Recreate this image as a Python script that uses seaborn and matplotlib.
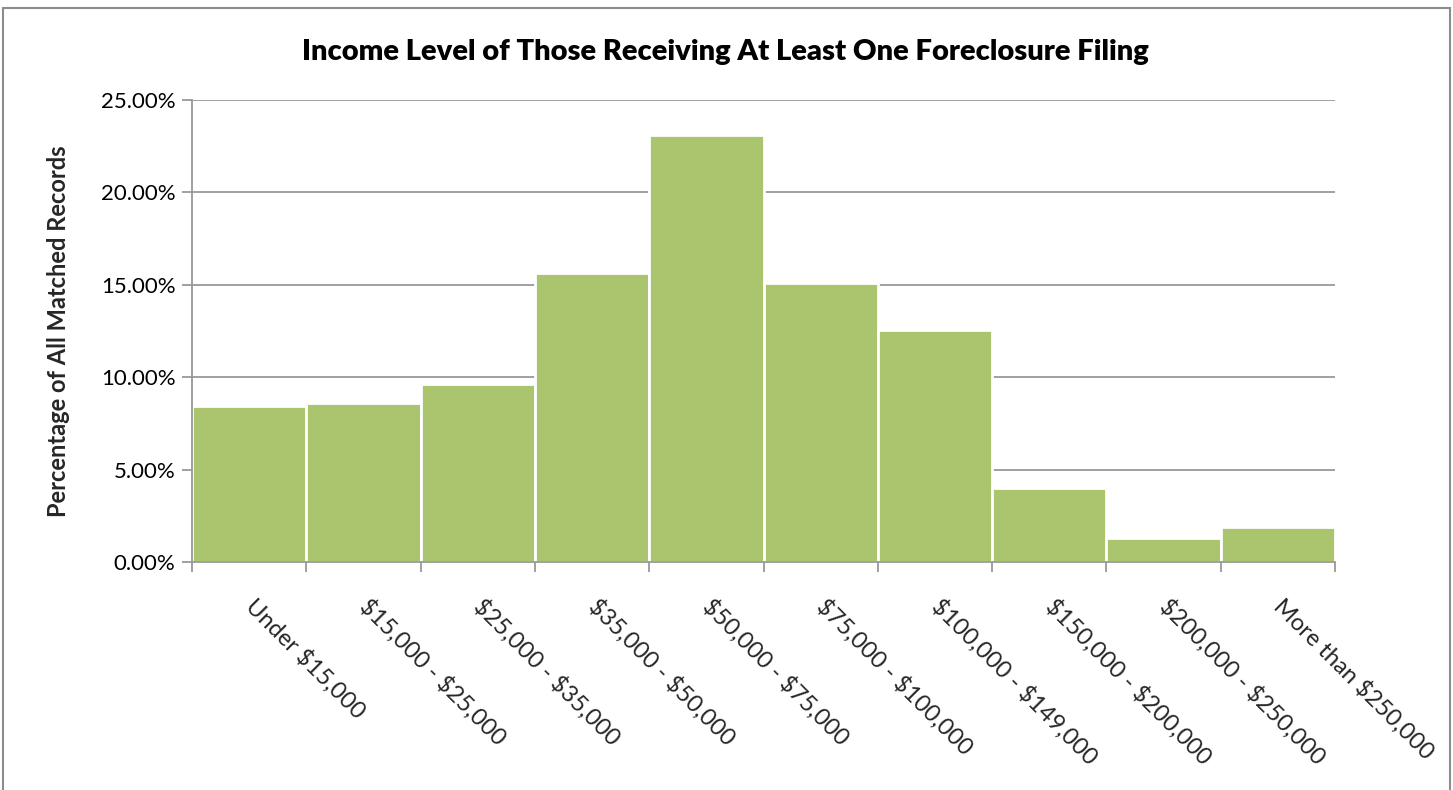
import matplotlib
matplotlib.use("Agg")
import matplotlib.pyplot as plt
import seaborn as sns
import numpy as np
import pandas as pd
from matplotlib.patches import Rectangle
from matplotlib.ticker import FuncFormatter, FixedLocator

categories = ["Under $15,000", "$15,000 - $25,000", "$25,000 - $35,000",
              "$35,000 - $50,000", "$50,000 - $75,000", "$75,000 - $100,000",
              "$100,000 - $149,000", "$150,000 - $200,000", "$200,000 - $250,000",
              "More than $250,000"]
percent = [8.45, 8.62, 9.62, 15.65, 23.1, 15.1, 12.58, 4.0, 1.3, 1.92]
y_ticks = [0, 5, 10, 15, 20, 25]

title = "Income Level of Those Receiving At Least One Foreclosure Filing"
ylabel = "Percentage of All Matched Records"

sns.set_style("white")
plt.rcParams['font.family'] = ['Lato', 'DejaVu Sans']
plt.rcParams['text.parse_math'] = False

df = pd.DataFrame({"cat": categories, "pct": percent})

fig = plt.figure(figsize=(14.53, 7.9), dpi=100)
ax = fig.add_axes([192/1453, 1-562/790, (1335-192)/1453, (562-100)/790])

sns.barplot(data=df, x="cat", y="pct", ax=ax, color="#ABC46E", saturation=1,
            width=1.0, edgecolor="white", linewidth=2)

ax.set_ylim(0, 25)
ax.set_xlim(-0.5, len(categories) - 0.5)
ax.set_yticks(y_ticks)
ax.yaxis.set_major_formatter(FuncFormatter(lambda v, p: f"{v:.2f}%"))
ax.grid(axis="y", color="#999999", linewidth=1.3)
ax.set_axisbelow(True)

for s in ["top", "right"]:
    ax.spines[s].set_visible(False)
for s in ["left", "bottom"]:
    ax.spines[s].set_color("#999999")
    ax.spines[s].set_linewidth(1.3)

ax.tick_params(axis="y", which="major", left=True, length=7, width=1.3,
               color="#999999", labelsize=16, pad=5, labelcolor="black")
ax.xaxis.set_minor_locator(FixedLocator(np.arange(-0.5, len(categories), 1.0)))
ax.tick_params(axis="x", which="minor", bottom=True, length=7, width=1.3, color="#999999")
ax.tick_params(axis="x", which="major", bottom=False, labelsize=17, pad=26)
for lab in ax.get_xticklabels():
    lab.set_rotation(-45)
    lab.set_ha("left")
    lab.set_va("center")
    lab.set_rotation_mode("anchor")

ax.set_xlabel("")
ax.set_ylabel(ylabel, fontsize=17, fontweight="bold", labelpad=22)
fig.text(725/1453, 1-52/790, title, ha="center", va="center",
         fontsize=21, fontweight="heavy", color="black")

fig.patches.append(Rectangle((3/1453, -0.05), 1447/1453, 1.05 - 8/790,
                             transform=fig.transFigure, fill=False,
                             edgecolor="#8c8c8c", linewidth=1.5))

fig.savefig("out.png", dpi=100)
